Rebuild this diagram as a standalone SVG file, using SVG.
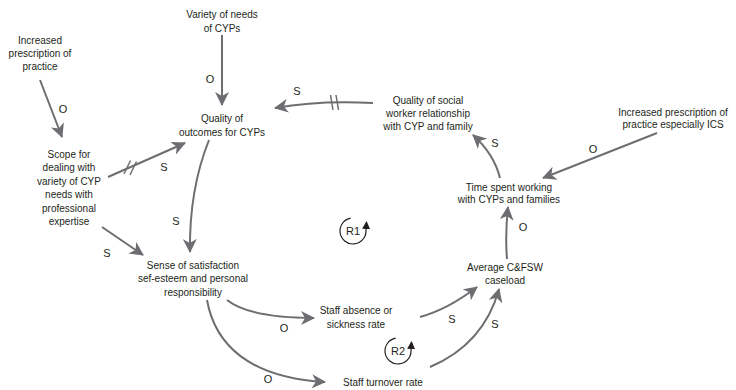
<svg xmlns="http://www.w3.org/2000/svg" width="736" height="390" viewBox="0 0 736 390">
  <defs>
    <marker id="arr" viewBox="0 0 14 14" refX="13" refY="7" markerWidth="14" markerHeight="14" markerUnits="userSpaceOnUse" orient="auto">
      <path d="M0,0 L14,7 L0,14 L4,7 z" fill="#6d6e71"/>
    </marker>
    <marker id="loopArr" viewBox="0 0 8 8" refX="7" refY="4" markerWidth="8" markerHeight="8" markerUnits="userSpaceOnUse" orient="auto">
      <path d="M0,0 L8,4 L0,8 z" fill="#231f20"/>
    </marker>
    <style>
      .node text { font-family: "Liberation Sans", Arial, sans-serif; font-size: 10px; fill: #231f20; text-anchor: middle; }
      .link { fill: none; stroke: #6d6e71; stroke-width: 2; marker-end: url(#arr); }
      .delay { fill: none; stroke: #6d6e71; stroke-width: 1.5; }
      .pol { font-family: "Liberation Sans", Arial, sans-serif; font-size: 11px; fill: #231f20; text-anchor: middle; }
      .loop { fill: none; stroke: #231f20; stroke-width: 1.2; marker-end: url(#loopArr); }
      .loop-label { font-family: "Liberation Sans", Arial, sans-serif; font-size: 11px; fill: #231f20; text-anchor: middle; }
    </style>
  </defs>

  <!-- connectors -->
  <g id="connectors">
    <path class="link" d="M222,35 L222,105"/>
    <path class="link" d="M40,80 L62,137"/>
    <path class="link" d="M108,177 L185,143"/>
    <path class="delay" d="M124,174 L130.5,160.5 M130,175 L136.5,161.5"/>
    <path class="link" d="M209,140 Q189,190 190,252"/>
    <path class="link" d="M102,227 L143,255"/>
    <path class="link" d="M227,300 Q250,318 314,318"/>
    <path class="link" d="M207,300 C215,345 250,378 325,382"/>
    <path class="link" d="M420,317 C442,311 460,300 477,287"/>
    <path class="link" d="M430,367 C470,350 490,322 499,289"/>
    <path class="link" d="M507,259 Q505,235 508,207"/>
    <path class="link" d="M500,178 Q494,154 473,135"/>
    <path class="link" d="M657,133 L543,178"/>
    <path class="link" d="M373,103 Q320,100 275,108"/>
    <path class="delay" d="M330.5,95 L333,110 M336,95 L338.5,110"/>

    <!-- polarity labels -->
    <text class="pol" x="210" y="83">O</text>
    <text class="pol" x="63" y="113">O</text>
    <text class="pol" x="164" y="171">S</text>
    <text class="pol" x="176" y="225">S</text>
    <text class="pol" x="107" y="257">S</text>
    <text class="pol" x="297" y="95">S</text>
    <text class="pol" x="495" y="147">S</text>
    <text class="pol" x="593" y="153">O</text>
    <text class="pol" x="523" y="231">O</text>
    <text class="pol" x="452" y="323">S</text>
    <text class="pol" x="495" y="328">S</text>
    <text class="pol" x="284" y="332">O</text>
    <text class="pol" x="268" y="383">O</text>
  </g>

  <!-- loop markers -->
  <g id="loop-R1">
    <path class="loop" d="M350.7,218.2 A13,13 0 1 0 366,231 L366.5,222"/>
    <text class="loop-label" x="353" y="235">R1</text>
  </g>
  <g id="loop-R2">
    <path class="loop" d="M395.7,338.2 A13,13 0 1 0 411,351 L411.5,342"/>
    <text class="loop-label" x="398" y="355">R2</text>
  </g>

  <!-- nodes -->
  <g id="variety-needs" class="node">
    <text x="222" y="17.5">Variety of needs</text>
    <text x="222" y="31.5">of CYPs</text>
  </g>
  <g id="increased-prescription" class="node">
    <text x="40" y="43.5">Increased</text>
    <text x="40" y="56.5">prescription of</text>
    <text x="40" y="69.5">practice</text>
  </g>
  <g id="quality-outcomes" class="node">
    <text x="222" y="121.5">Quality of</text>
    <text x="222" y="135.5">outcomes for CYPs</text>
  </g>
  <g id="scope" class="node">
    <text x="69" y="157.5">Scope for</text>
    <text x="69" y="171">dealing with</text>
    <text x="69" y="184.5">variety of CYP</text>
    <text x="69" y="198">needs with</text>
    <text x="69" y="211.5">professional</text>
    <text x="69" y="225">expertise</text>
  </g>
  <g id="sense-satisfaction" class="node">
    <text x="193" y="268.5">Sense of satisfaction</text>
    <text x="193" y="282">sef-esteem and personal</text>
    <text x="193" y="295.5">responsibility</text>
  </g>
  <g id="staff-absence" class="node">
    <text x="356" y="313.5">Staff absence or</text>
    <text x="356" y="327.5">sickness rate</text>
  </g>
  <g id="staff-turnover" class="node">
    <text x="383" y="385.5">Staff turnover rate</text>
  </g>
  <g id="average-caseload" class="node">
    <text x="505" y="270.5">Average C&amp;FSW</text>
    <text x="505" y="283.5">caseload</text>
  </g>
  <g id="time-spent" class="node">
    <text x="509" y="190.5">Time spent working</text>
    <text x="509" y="203">with CYPs and families</text>
  </g>
  <g id="quality-relationship" class="node">
    <text x="428" y="103.5">Quality of social</text>
    <text x="428" y="116.5">worker relationship</text>
    <text x="428" y="129.5">with CYP and family</text>
  </g>
  <g id="increased-prescription-ics" class="node">
    <text x="673" y="115.5">Increased prescription of</text>
    <text x="673" y="127.5">practice especially ICS</text>
  </g>
</svg>
